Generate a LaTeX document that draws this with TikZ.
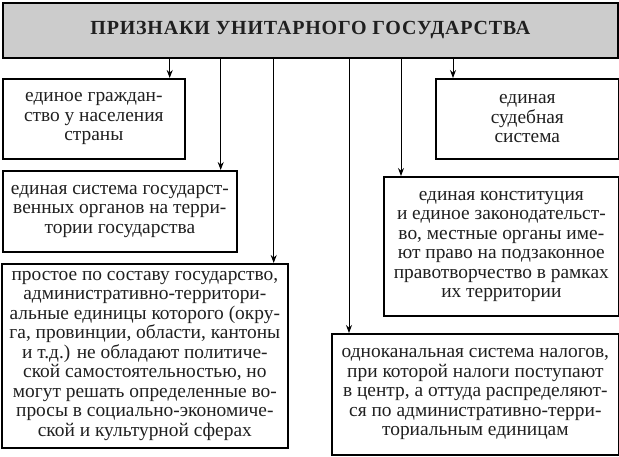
\documentclass[tikz,border=0pt]{standalone}
\usepackage{fontspec}
\setmainfont{LiberationSerif}[
Extension=.ttf,
UprightFont=*-Regular,
BoldFont=*-Bold,
ItalicFont=*-Italic,
BoldItalicFont=*-BoldItalic
]
\usetikzlibrary{
    arrows.meta,
    positioning
}

\begin{document}
\begin{tikzpicture}[
x=1pt, y=-1pt,
box/.style={
draw,
line width=1.7pt,
inner sep=1pt,
align=center,
anchor=north west,
font=\fontsize{19.4}{19.5}\selectfont,
text=black!88
},
arr/.style={
-{Stealth[length=8pt,width=6pt]},
line width=1pt
}
]

\useasboundingbox (0,0) rectangle (619,456);

% title
\node[box, fill=gray!40, minimum width=615, minimum height=55,
font=\fontsize{20}{22}\selectfont\bfseries\addfontfeature{LetterSpace=4}] (title) at (2,2)
{ПРИЗНАКИ УНИТАРНОГО ГОСУДАРСТВА};

% left column
\node[box, minimum width=182, minimum height=80] (citizen) at (2,78)
{единое граждан-\\ство у населения\\страны};

\node[box, minimum width=234, minimum height=81] (organs) at (2,170)
{единая система государст-\\венных органов на терри-\\тории государства};

\node[box, minimum width=286, minimum height=184] (simple) at (1,263)
{простое по составу государство,\\административно-территори-\\альные единицы которого (окру-\\га, провинции, области, кантоны\\и т.д.) не обладают политиче-\\ской самостоятельностью, но\\могут решать определенные во-\\просы в социально-экономиче-\\ской и культурной сферах};

% right column
\node[box, minimum width=183, minimum height=80] (court) at (435,78)
{единая\\судебная\\система};

\node[box, minimum width=235, minimum height=139] (constit) at (383,176)
{единая конституция\\и единое законодательст-\\во, местные органы име-\\ют право на подзаконное\\правотворчество в рамках\\их территории};

\node[box, minimum width=287, minimum height=121] (taxes) at (331,333)
{одноканальная система налогов,\\при которой налоги поступают\\в центр, а оттуда распределяют-\\ся по административно-терри-\\ториальным единицам};

% arrow entry points
\coordinate (citizentop) at ([xshift=-16pt]citizen.north east);
\coordinate (organstop) at ([xshift=-17pt]organs.north east);
\coordinate (simpletop) at ([xshift=-15pt]simple.north east);
\coordinate (courttop) at ([xshift=18pt]court.north west);
\coordinate (constittop) at ([xshift=18pt]constit.north west);
\coordinate (taxestop) at ([xshift=18pt]taxes.north west);

\foreach \t in {citizentop, organstop, simpletop, courttop, constittop, taxestop}
\draw[arr] (\t |- title.south) -- (\t);

\end{tikzpicture}
\end{document}
